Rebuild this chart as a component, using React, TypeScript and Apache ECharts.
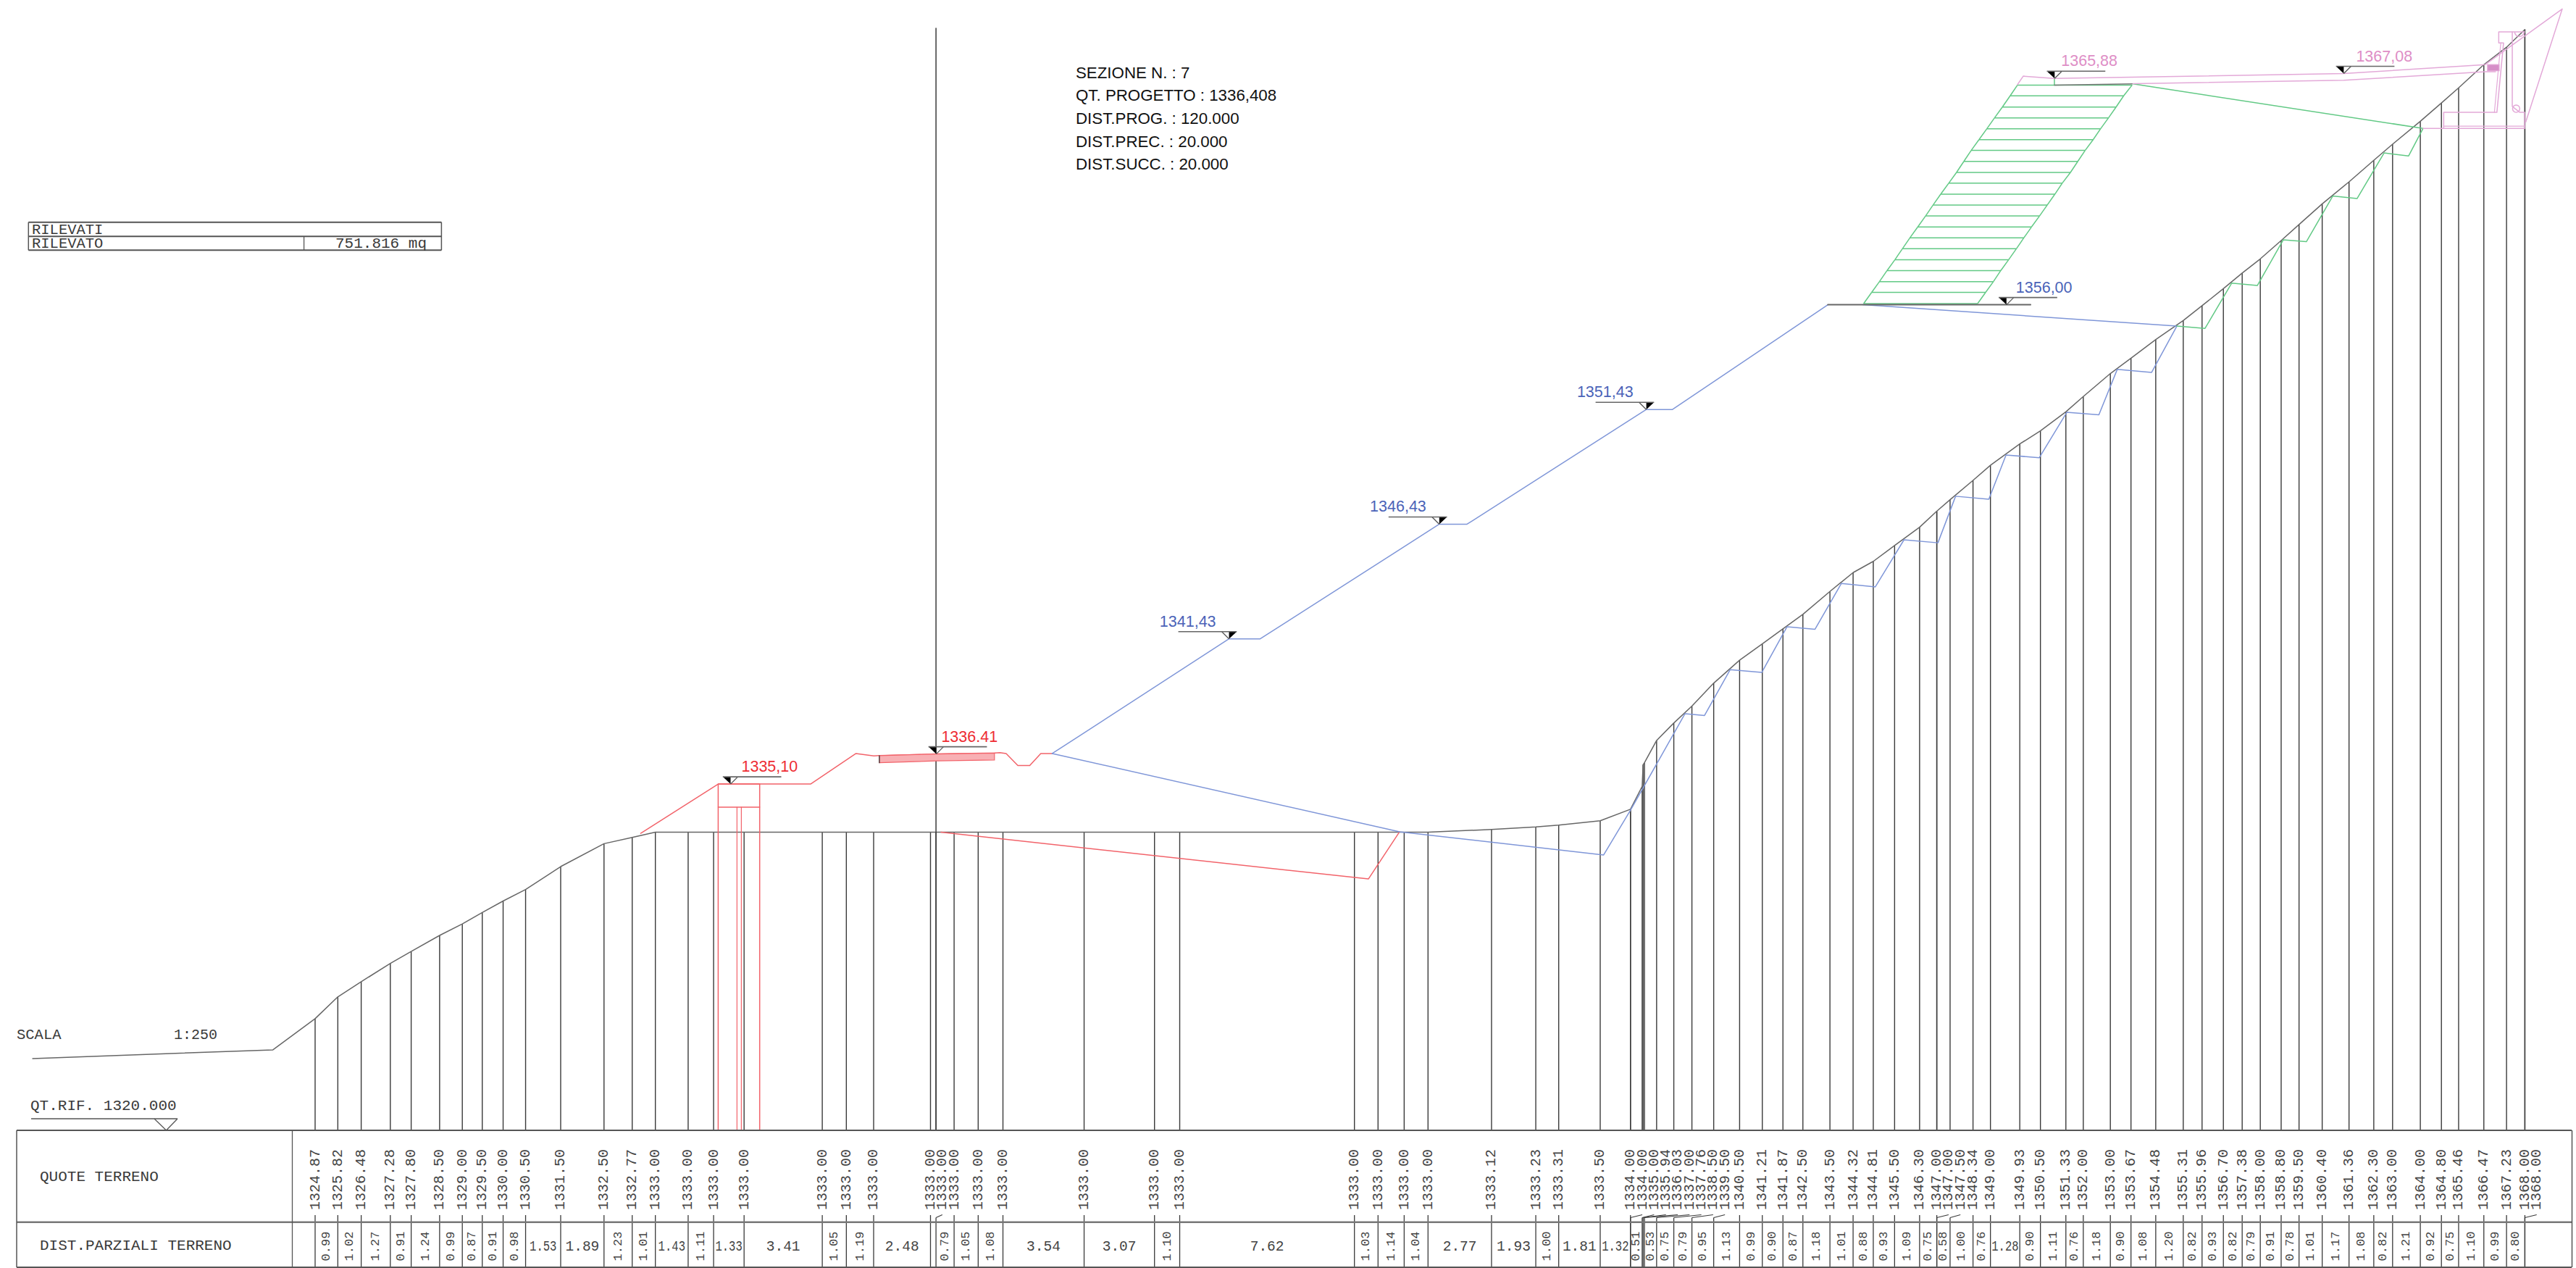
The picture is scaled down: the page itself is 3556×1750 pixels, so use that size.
import React, { useEffect, useRef } from "react";
import * as echarts from "echarts";

// Ground survey: elevation at each station, and partial distance between consecutive stations (m)
const quoteTerreno = [
  1324.87, 1325.82, 1326.48, 1327.28, 1327.8, 1328.5, 1329.0, 1329.5, 1330.0, 1330.5, 1331.5, 1332.5, 1332.77,
  1333.0, 1333.0, 1333.0, 1333.0, 1333.0, 1333.0, 1333.0, 1333.0, 1333.0, 1333.0, 1333.0, 1333.0, 1333.0, 1333.0, 1333.0, 1333.0, 1333.0, 1333.0, 1333.0,
  1333.12, 1333.23, 1333.31, 1333.5, 1334.0, 1334.0, 1335.0, 1335.94, 1336.03, 1337.0, 1337.76, 1338.5, 1339.5,
  1340.5, 1341.21, 1341.87, 1342.5, 1343.5, 1344.32, 1344.81, 1345.5, 1346.3, 1347.0, 1347.0, 1347.5, 1348.34, 1349.0,
  1349.93, 1350.5, 1351.33, 1352.0, 1353.0, 1353.67, 1354.48, 1355.31, 1355.96, 1356.7, 1357.38, 1358.0, 1358.8, 1359.5,
  1360.4, 1361.36, 1362.3, 1363.0, 1364.0, 1364.8, 1365.46, 1366.47, 1367.23, 1368.0, 1368.0,
];
const distParziali = [
  0.99, 1.02, 1.27, 0.91, 1.24, 0.99, 0.87, 0.91, 0.98, 1.53, 1.89, 1.23, 1.01,
  1.43, 1.11, 1.33, 3.41, 1.05, 1.19, 2.48, 0.24, 0.79, 1.05, 1.08, 3.54, 3.07, 1.1, 7.62, 1.03, 1.14, 1.04,
  2.77, 1.93, 1.0, 1.81, 1.32, 0, 0.51, 0.04, 0.06, 0.53, 0.75, 0.79, 0.95, 1.13,
  0.99, 0.9, 0.87, 1.18, 1.01, 0.88, 0.93, 1.09, 0.75, 0, 0.58, 1.0, 0.76, 1.28,
  0.9, 1.11, 0.76, 1.18, 0.9, 1.08, 1.2, 0.82, 0.93, 0.82, 0.79, 0.91, 0.78, 1.01,
  1.17, 1.08, 0.82, 1.21, 0.92, 0.75, 1.1, 0.99, 0.8, 0,
];
const terrainLead = [[-12.32, 1323.13], [-1.84, 1323.51]];
const centreAxis = [[27.08, 1320], [27.08, 1368.06]];

// Project lines: [distance, elevation]
const redRoad = [[14.2, 1332.95], [17.58, 1335.1], [21.61, 1335.1], [23.59, 1336.43], [24.37, 1336.33], [24.61, 1336.34], [27.09, 1336.41], [29.63, 1336.45], [29.87, 1336.47], [30.14, 1336.43], [30.65, 1335.91], [31.17, 1335.91], [31.65, 1336.43], [32.15, 1336.43]];
const redBuried = [[27.3, 1333.0], [45.94, 1330.96], [47.3, 1333.02]];
const redPileA = [[17.58, 1320], [17.58, 1335.1], [19.39, 1335.1], [19.39, 1320]];
const redPileB = [[17.58, 1334.09], [19.39, 1334.09]];
const redPileC = [[18.4, 1320], [18.4, 1334.09]];
const redPileD = [[18.59, 1320], [18.59, 1334.09]];
const pavement = [[24.61, 1336.34], [27.09, 1336.41], [29.63, 1336.45], [29.63, 1336.15], [27.09, 1336.11], [24.61, 1336.03]];
const pavementEdge = [[24.61, 1336.34], [24.61, 1336.03]];

const blueUpper = [[32.15, 1336.43], [39.86, 1341.43], [41.22, 1341.43], [49.03, 1346.43], [50.24, 1346.43], [58.06, 1351.43], [59.2, 1351.43], [65.98, 1356.0]];
const blueDrain = [[67.51, 1356.0], [81.2, 1355.07]];
const blueLower = [
  [32.15, 1336.43], [47.3, 1333.02], [56.2, 1332.01], [57.39, 1333.99], [59.75, 1338.17], [60.6, 1338.09], [61.72, 1340.09], [63.1, 1339.97],
  [64.2, 1341.96], [65.42, 1341.85], [66.57, 1343.85], [68.05, 1343.7], [69.3, 1345.75], [70.78, 1345.62], [71.55, 1347.65], [73.0, 1347.52],
  [73.75, 1349.45], [75.2, 1349.33], [76.4, 1351.31], [77.8, 1351.2], [78.6, 1353.18], [80.1, 1353.05], [81.2, 1355.07],
];
const platform = [[65.98, 1356.0], [74.82, 1356.0]];
const greenSteps = [
  [79.29, 1365.63], [91.94, 1363.69], [91.31, 1362.49], [90.24, 1362.62], [89.06, 1360.63], [88.0, 1360.74], [86.85, 1358.75], [85.84, 1358.83],
  [84.71, 1356.84], [83.59, 1356.94], [82.43, 1354.97], [81.2, 1355.07],
];
const terraceLeft = [74.25, 73.93, 73.59, 73.25, 72.91, 72.57, 72.23, 71.91, 71.59, 71.25, 70.9, 70.57, 70.24, 69.9, 69.56, 69.23, 68.9, 68.56, 68.23, 67.89, 67.54];
const terraceRight = [79.25, 78.88, 78.55, 78.22, 77.87, 77.55, 77.2, 76.88, 76.56, 76.2, 75.88, 75.55, 75.21, 74.86, 74.53, 74.2, 73.86, 73.52, 73.2, 72.86, 72.51];
const terraceElev = [1365.58, 1365.11, 1364.62, 1364.15, 1363.67, 1363.2, 1362.73, 1362.25, 1361.77, 1361.3, 1360.82, 1360.35, 1359.87, 1359.39, 1358.92, 1358.44, 1357.96, 1357.49, 1357.01, 1356.54, 1356.05];
const greenStem = [[75.86, 1365.87], [75.86, 1365.58]];
const topFormation = [[75.86, 1365.58], [79.25, 1365.63]];

const pinkTop = [[74.25, 1365.6], [74.5, 1365.97], [75.84, 1365.87], [88.48, 1366.08], [94.65, 1366.47], [98.01, 1368.9], [96.42, 1363.97]];
const pinkLower = [[79.29, 1365.64], [88.48, 1365.79], [94.65, 1366.16], [95.1, 1366.16]];
const pinkWall = [[91.94, 1363.69], [96.37, 1363.69], [96.37, 1364.39], [96.16, 1364.39], [95.83, 1364.65], [95.83, 1367.9], [95.24, 1367.9], [95.24, 1367.42], [95.45, 1367.42], [95.16, 1364.39], [92.84, 1364.39], [92.84, 1363.69]];
const pinkWallTop = [[95.83, 1367.9], [96.37, 1367.9]];
const pinkWallInner = [[95.33, 1367.42], [95.05, 1364.39]];
const pinkFooting = [[92.84, 1363.79], [96.37, 1363.79]];
const pinkPad = [[94.75, 1366.47], [95.26, 1366.47], [95.26, 1366.2], [94.75, 1366.2]];
const pinkCircle = [96.0, 1364.55];
const pinkArc = [96.14, 1367.9];

// Level markers
const levelPoints = [[18.12, 1335.1], [27.09, 1336.41], [39.86, 1341.43], [49.03, 1346.43], [58.06, 1351.43], [73.77, 1356.0], [75.87, 1365.87], [88.48, 1366.08]];
const levelTexts = ["1335,10", "1336.41", "1341,43", "1346,43", "1351,43", "1356,00", "1365,88", "1367,08"];
const levelColors = ["#ee2c33", "#ee2c33", "#4a63b8", "#4a63b8", "#4a63b8", "#4a63b8", "#de8ec6", "#de8ec6"];
const levelDirs = [1, 1, -1, -1, -1, 1, 1, 1];
const levelTextGaps = [15, 7, 18, 18, 18, 13, 9, 17];

const infoLines = ["SEZIONE N. : 7", "QT. PROGETTO : 1336,408", "DIST.PROG. : 120.000", "DIST.PREC. : 20.000", "DIST.SUCC. : 20.000"];

const PX = 31.65;
const C = { black: "#3a3a3a", terrain: "#666", red: "#f2636a", blue: "#7f96d8", green: "#62c985", pink: "#e3a9d8" };
const MONO = "'Liberation Mono', monospace";

const stations: number[] = [0];
distParziali.forEach((v, i) => stations.push(Math.round((stations[i] + v) * 100) / 100));
const labelPos: number[] = [];
stations.forEach((d, i) => labelPos.push(i === 0 ? d : Math.max(d, labelPos[i - 1] + 0.515)));

const poly = (data: number[][], color: string, width = 1.5, z = 3) => ({
  type: "line", data, symbol: "none", silent: true, animation: false, clip: false, z,
  lineStyle: { color, width, cap: "round", join: "round" },
});

const txt = (text: string, x: number, y: number, size = 21, extra: any = {}) => ({
  type: "text", x, y, silent: true, z: 10,
  style: {
    text, x: 0, y: 0, font: `${size}px ${MONO}`, fill: "#3a3a3a",
    align: "left", verticalAlign: "middle", textAlign: "left", textVerticalAlign: "middle", ...extra,
  },
});
const rule = (x1: number, y1: number, x2: number, y2: number, lineWidth = 1.5, stroke = "#555") => ({
  type: "line", shape: { x1, y1, x2, y2 }, silent: true, z: 9, style: { stroke, lineWidth },
});

export default function App() {
  const ref = useRef<HTMLDivElement>(null);
  useEffect(() => {
    document.body.style.margin = "0";
    document.body.style.background = "#fff";
    const chart = echarts.init(ref.current!, null, { renderer: "svg", width: 3556, height: 1750 });

    const stationLines = {
      type: "custom", silent: true, animation: false, clip: false, z: 2,
      data: stations.map((d, i) => [d, quoteTerreno[i]]),
      renderItem: (_p: any, api: any) => {
        const a = api.coord([api.value(0), api.value(1)]);
        const b = api.coord([api.value(0), 1320]);
        return { type: "line", shape: { x1: a[0], y1: a[1], x2: b[0], y2: b[1] }, style: { stroke: C.black, lineWidth: 1.4 } };
      },
    };
    const tableTicks = {
      type: "custom", silent: true, animation: false, clip: false, z: 2,
      data: stations.map((d, i) => [d, labelPos[i]]),
      renderItem: (_p: any, api: any) => {
        const x = api.coord([api.value(0), 1320])[0];
        const lx = api.coord([api.value(1), 1320])[0];
        const moved = Math.abs(lx - x) > 0.5;
        const children: any[] = [{ type: "line", shape: { x1: x, y1: moved ? 1680.5 : 1677, x2: x, y2: 1749 }, style: { stroke: C.black, lineWidth: 1.3 } }];
        if (moved) children.push({ type: "line", shape: { x1: x, y1: 1680.5, x2: lx, y2: 1676.5 }, style: { stroke: C.black, lineWidth: 1.2 } });
        return { type: "group", children };
      },
    };
    const quoteLabels = {
      type: "custom", silent: true, animation: false, clip: false, z: 6,
      data: labelPos.map((d) => [d, 1320]),
      renderItem: (p: any, api: any) => {
        const x = api.coord([api.value(0), 1320])[0];
        return {
          type: "text", x, y: 1628, rotation: Math.PI / 2,
          style: { text: quoteTerreno[p.dataIndex].toFixed(2), font: `20px ${MONO}`, fill: "#444", align: "center", verticalAlign: "middle", textAlign: "center", textVerticalAlign: "middle" },
        };
      },
    };
    const partialRows = distParziali.map((v, i) => [(stations[i] + stations[i + 1]) / 2, v]).filter((r) => r[1] >= 0.3);
    const partialLabels = {
      type: "custom", silent: true, animation: false, clip: false, z: 6,
      data: partialRows,
      renderItem: (_p: any, api: any) => {
        const x = api.coord([api.value(0), 1320])[0];
        const v = api.value(1);
        const flat = v > 1.275;
        const big = v >= 1.6;
        return {
          type: "text", x, y: 1720, rotation: flat ? 0 : Math.PI / 2,
          scaleX: flat ? (big ? 0.93 : 0.8) : 1,
          style: { text: v.toFixed(2), font: `${flat ? (big ? 21 : 19.5) : 17}px ${MONO}`, fill: "#444", align: "center", verticalAlign: "middle", textAlign: "center", textVerticalAlign: "middle" },
        };
      },
    };
    const terraces = {
      type: "custom", silent: true, animation: false, clip: false, z: 3,
      data: terraceElev.map((e, i) => [terraceLeft[i], terraceRight[i], e]),
      renderItem: (p: any, api: any) => {
        const a = api.coord([api.value(0), api.value(2)]);
        const b = api.coord([api.value(1), api.value(2)]);
        const children: any[] = [{ type: "line", shape: { x1: a[0], y1: a[1], x2: b[0], y2: b[1] }, style: { stroke: C.green, lineWidth: 1.5 } }];
        const n = p.dataIndex + 1;
        if (n < terraceElev.length) {
          const a2 = api.coord([terraceLeft[n], terraceElev[n]]);
          const b2 = api.coord([terraceRight[n], terraceElev[n]]);
          children.push({ type: "line", shape: { x1: a[0], y1: a[1], x2: a2[0], y2: a2[1] }, style: { stroke: C.green, lineWidth: 1.5 } });
          children.push({ type: "line", shape: { x1: b[0], y1: b[1], x2: b2[0], y2: b2[1] }, style: { stroke: C.green, lineWidth: 1.5 } });
        }
        return { type: "group", children };
      },
    };
    const fillPoly = (points: number[][], fill: string, stroke: string) => ({
      type: "custom", silent: true, animation: false, clip: false, z: 4,
      data: [points[0]],
      renderItem: (_p: any, api: any) => ({
        type: "polygon", shape: { points: points.map((q) => api.coord(q)) }, style: { fill, stroke, lineWidth: 1.2 },
      }),
    });
    const pinkRound = {
      type: "custom", silent: true, animation: false, clip: false, z: 4,
      data: [pinkCircle, pinkArc],
      renderItem: (p: any, api: any) => {
        const c = api.coord([api.value(0), api.value(1)]);
        return p.dataIndex === 0
          ? { type: "circle", shape: { cx: c[0], cy: c[1], r: 5 }, style: { fill: "none", stroke: C.pink, lineWidth: 1.5 } }
          : { type: "arc", shape: { cx: c[0], cy: c[1], r: 6.5, startAngle: 0, endAngle: Math.PI, clockwise: true }, style: { fill: "none", stroke: C.pink, lineWidth: 1.5 } };
      },
    };
    const levels = {
      type: "custom", silent: true, animation: false, clip: false, z: 7,
      data: levelPoints,
      renderItem: (p: any, api: any) => {
        const [x, y] = api.coord([api.value(0), api.value(1)]);
        const i = p.dataIndex;
        const s = levelDirs[i];
        const color = levelColors[i];
        return {
          type: "group",
          children: [
            { type: "polygon", shape: { points: [[x - 10.7 * s, y - 10], [x, y - 10], [x, y]] }, style: { fill: "#000" } },
            { type: "line", shape: { x1: x, y1: y, x2: x + 10 * s, y2: y - 10 }, style: { stroke: "#555", lineWidth: 1.3 } },
            { type: "line", shape: { x1: x - 10.7 * s, y1: y - 10, x2: x + 70 * s, y2: y - 10 }, style: { stroke: "#666", lineWidth: 1.6 } },
            {
              type: "text", x: x + levelTextGaps[i] * s, y: y - 24,
              style: { text: levelTexts[i], font: `21.5px 'Liberation Sans', Arial, sans-serif`, fill: color, align: s > 0 ? "left" : "right", verticalAlign: "middle", textAlign: s > 0 ? "left" : "right", textVerticalAlign: "middle" },
            },
          ],
        };
      },
    };

    chart.setOption({
      animation: false,
      backgroundColor: "#fff",
      grid: { left: 0, right: 0, top: 0, bottom: 0 },
      xAxis: { type: "value", min: -435 / PX, max: (3556 - 435) / PX, show: false },
      yAxis: { type: "value", min: 1320 - 190 / PX, max: 1320 + 1560 / PX, show: false, scale: true },
      tooltip: { show: false },
      series: [
        stationLines,
        tableTicks,
        poly([...terrainLead, ...stations.map((d, i) => [d, quoteTerreno[i]])], C.terrain, 1.5, 3),
        poly(centreAxis, C.black, 1.5, 3),
        poly(redRoad, C.red), poly(redBuried, C.red),
        poly(redPileA, C.red), poly(redPileB, C.red), poly(redPileC, C.red, 1.2), poly(redPileD, C.red, 1.2),
        fillPoly(pavement, "#f8b0b4", C.red),
        poly(pavementEdge, C.black, 1.3, 5),
        poly(blueUpper, C.blue), poly(blueDrain, C.blue), poly(blueLower, C.blue),
        poly(platform, "#666", 2, 4),
        poly(greenSteps, C.green), poly(greenStem, C.green),
        terraces,
        poly(topFormation, "#777", 1.5, 4),
        poly(pinkTop, C.pink), poly(pinkLower, C.pink), poly(pinkWall, C.pink), poly(pinkWallTop, C.pink), poly(pinkWallInner, C.pink, 1.2), poly(pinkFooting, C.pink, 1.2),
        fillPoly(pinkPad, "#d68fc8", C.pink),
        pinkRound,
        levels,
        quoteLabels,
        partialLabels,
      ],
      graphic: {
        elements: [
          rule(23, 1560, 3550, 1560, 2), rule(23, 1686.7, 3550, 1686.7, 2.4, "#777"), rule(23, 1749, 3550, 1749, 1.8),
          rule(23, 1560, 23, 1749, 1.5), rule(403.5, 1560, 403.5, 1749, 1.3), rule(3550.5, 1560, 3550.5, 1749, 1.5),
          rule(43, 1544, 245, 1544, 1.6),
          rule(213, 1544, 229.5, 1560, 1.3), rule(245, 1544, 229.5, 1560, 1.3),
          txt("QUOTE TERRENO", 55, 1624), txt("DIST.PARZIALI TERRENO", 55, 1719),
          txt("QT.RIF. 1320.000", 42, 1526), txt("SCALA", 23, 1428, 20.5), txt("1:250", 240, 1428, 20),
          rule(39.3, 306.7, 609.4, 306.7, 2), rule(39.3, 326.3, 609.4, 326.3, 2), rule(39.3, 345.3, 609.4, 345.3, 2),
          rule(39.3, 306.7, 39.3, 345.3, 1.5), rule(609.4, 306.7, 609.4, 345.3, 1.5), rule(419.6, 326.3, 419.6, 345.3, 1.3),
          txt("RILEVATI", 44, 317, 20.5), txt("RILEVATO", 44, 336, 20.5), txt("751.816 mq", 463, 336),
          ...infoLines.map((t, i) => ({
            type: "text", x: 1485, y: 100 + i * 31.7, silent: true, z: 10,
            style: { text: t, x: 0, y: 0, font: "22.3px 'Liberation Sans', Arial, sans-serif", fill: "#111", align: "left", verticalAlign: "middle", textAlign: "left", textVerticalAlign: "middle" },
          })),
        ],
      },
    });
    return () => chart.dispose();
  }, []);
  return <div ref={ref} style={{ position: "absolute", left: 0, top: 0, width: 3556, height: 1750 }} />;
}
